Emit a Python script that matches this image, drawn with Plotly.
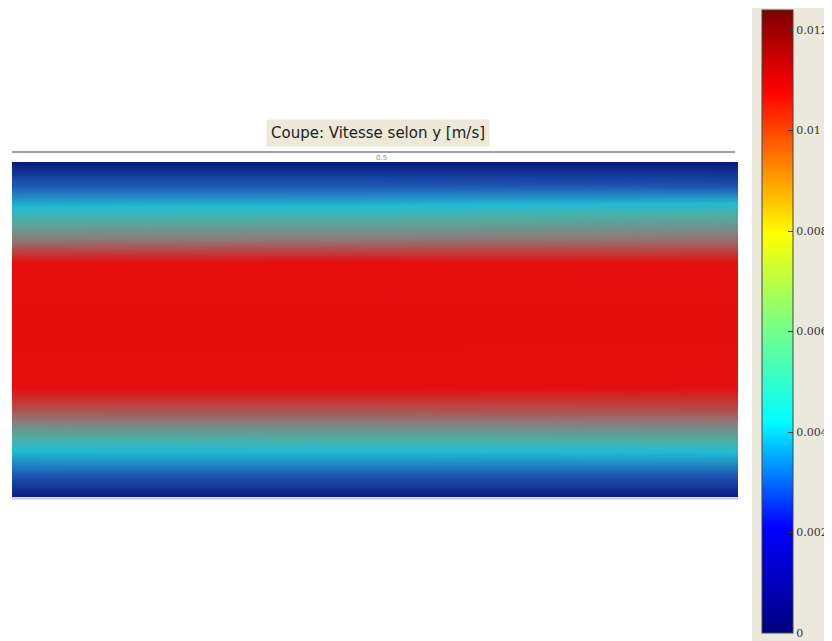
import plotly.graph_objects as go

# ---- data ----
# vertical position in the channel (1 = top edge, 0 = bottom edge)
y_pos = [1.0, 0.931, 0.866, 0.767, 0.701, 0.513, 0.328, 0.260, 0.179, 0.090, 0.0]
# horizontal positions of the sampled columns
x_pos = [0.0, 0.5, 1.0]
# velocity along y [m/s] at each row, for the left / middle / right columns
v_left = [0.0, 0.0022, 0.0045, 0.0075, 0.0105, 0.0108, 0.0105, 0.0086, 0.0057, 0.0030, 0.0]
v_mid = [0.0, 0.0022, 0.0046, 0.0076, 0.0105, 0.0108, 0.0105, 0.0086, 0.0058, 0.0030, 0.0]
v_right = [0.0, 0.0020, 0.0050, 0.0078, 0.0104, 0.0108, 0.0104, 0.0087, 0.0060, 0.0030, 0.0]

cbar_ticks = [0, 0.002, 0.004, 0.006, 0.008, 0.01, 0.012]
cbar_text = ["0", "0.002", "0.004", "0.006", "0.008", "0.01", "0.012"]
v_max = 0.0124

title_text = "Coupe: Vitesse selon y [m/s]"
slice_label = "0.5"

# rows x columns matrix
z = [[a, b, c] for a, b, c in zip(v_left, v_mid, v_right)]

# palette of the rendered slice (as it appears on screen)
render_scale = [
    [0.0, "#0a1a80"],
    [0.0022 / v_max, "#1e56b4"],
    [0.0045 / v_max, "#22bcd2"],
    [0.0057 / v_max, "#4eaea2"],
    [0.0075 / v_max, "#8e7a78"],
    [0.0105 / v_max, "#e60d0d"],
    [1.0, "#e00808"],
]
# legend colour scale (jet)
jet = [
    [0.0, "#00007f"],
    [0.17, "#0000ff"],
    [0.34, "#00ffff"],
    [0.5, "#7fff7f"],
    [0.64, "#ffff00"],
    [0.87, "#ff0000"],
    [1.0, "#7f0000"],
]

fig = go.Figure()
fig.add_trace(go.Heatmap(
    x=x_pos, y=y_pos, z=z,
    colorscale=render_scale, zmin=0, zmax=v_max,
    zsmooth="best", showscale=False, hoverinfo="skip",
))

# the page body has an 8 px margin, so figure coords = screen coords - 8
OFF = 8
W, H = 832 - OFF, 641 - OFF
# desired plot area on screen: x 12..738, y 162..497
L = 12 - OFF
T = 162 - OFF
R = W - (738 - OFF)
B = H - (497 - OFF)
pw, ph = W - L - R, H - T - B


def px_x(p):
    return (p - OFF - L) / pw


def px_y(p):
    return (H - B - (p - OFF)) / ph


fig.add_trace(go.Scatter(
    x=[None], y=[None], mode="markers", showlegend=False, hoverinfo="skip",
    marker=dict(
        color=[0], colorscale=jet, cmin=0, cmax=v_max, showscale=True,
        colorbar=dict(
            x=px_x(762), xanchor="left", xpad=0,
            y=px_y((10 + 633) / 2), yanchor="middle", ypad=0,
            lenmode="pixels", len=623, thickness=31,
            outlinewidth=1, outlinecolor="#444444",
            tickvals=cbar_ticks, ticktext=cbar_text,
            ticks="inside", ticklen=5, tickcolor="#333333",
            tickfont=dict(family="DejaVu Serif", size=11, color="#333333"),
        ),
    ),
))

fig.update_layout(
    width=W, height=H,
    margin=dict(l=L, r=R, t=T, b=B, pad=0, autoexpand=False),
    paper_bgcolor="white", plot_bgcolor="white",
    xaxis=dict(range=[0, 1], visible=False, fixedrange=True),
    yaxis=dict(range=[0, 1], visible=False, fixedrange=True),
    shapes=[
        # beige panel behind the colour bar
        dict(type="rect", xref="paper", yref="paper",
             x0=px_x(752), x1=px_x(845), y0=px_y(660), y1=px_y(8),
             fillcolor="#ebe8dc", line=dict(width=0), layer="below"),
        # grey line above the slice
        dict(type="line", xref="paper", yref="paper",
             x0=px_x(12), x1=px_x(735), y0=px_y(152), y1=px_y(152),
             line=dict(color="#a0a0a0", width=2)),
        # light frame line under the slice
        dict(type="line", xref="paper", yref="paper",
             x0=px_x(12), x1=px_x(738), y0=px_y(498.5), y1=px_y(498.5),
             line=dict(color="#c8c8e6", width=2)),
    ],
    annotations=[
        dict(text=title_text, xref="paper", yref="paper",
             x=px_x(378), y=px_y(133), xanchor="center", yanchor="middle",
             showarrow=False, bgcolor="#ece9d8", borderpad=4,
             font=dict(family="DejaVu Sans", size=15, color="#222222")),
        dict(text=slice_label, xref="paper", yref="paper",
             x=px_x(381), y=px_y(158), xanchor="center", yanchor="middle",
             showarrow=False, font=dict(family="DejaVu Sans", size=7, color="#888888")),
    ],
)

fig.write_html("out.html")
